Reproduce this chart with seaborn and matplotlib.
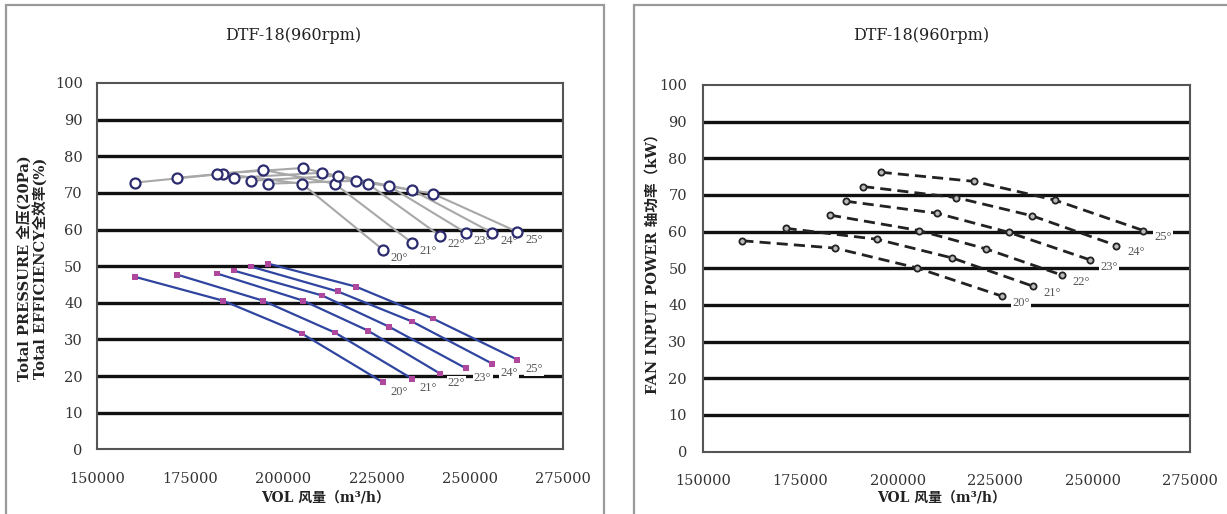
import matplotlib
matplotlib.use("Agg")
import matplotlib.pyplot as plt
import seaborn as sns
import pandas as pd
from matplotlib.patches import Rectangle

# ---------------- data ----------------
angles = ["20°", "21°", "22°", "23°", "24°", "25°"]

flow_20 = [160200, 183800, 205000, 226700]
flow_21 = [171500, 194500, 213800, 234500]
flow_22 = [182200, 205300, 222700, 242000]
flow_23 = [186700, 210400, 228300, 249000]
flow_24 = [191300, 214600, 234500, 256000]
flow_25 = [195900, 219500, 240100, 262700]

pressure_20 = [47.1, 40.6, 31.6, 18.3]
pressure_21 = [47.7, 40.6, 31.9, 19.3]
pressure_22 = [48.0, 40.6, 32.4, 20.7]
pressure_23 = [48.8, 42.0, 33.5, 22.1]
pressure_24 = [49.9, 43.1, 34.9, 23.4]
pressure_25 = [50.7, 44.4, 35.7, 24.5]

efficiency_20 = [72.8, 75.2, 72.5, 54.5]
efficiency_21 = [74.1, 76.3, 72.5, 56.4]
efficiency_22 = [75.2, 76.8, 72.5, 58.3]
efficiency_23 = [74.1, 75.5, 71.9, 59.1]
efficiency_24 = [73.3, 74.7, 70.8, 59.1]
efficiency_25 = [72.5, 73.3, 69.8, 59.4]

power_flow_20 = [160100, 183900, 204900, 226700]
power_flow_21 = [171200, 194700, 214000, 234700]
power_flow_22 = [182600, 205400, 222600, 242200]
power_flow_23 = [186600, 210100, 228500, 249300]
power_flow_24 = [191100, 214900, 234500, 256100]
power_flow_25 = [195600, 219600, 240300, 263000]

power_20 = [57.5, 55.5, 50.1, 42.4]
power_21 = [60.9, 57.9, 52.8, 45.1]
power_22 = [64.5, 60.3, 55.3, 48.1]
power_23 = [68.3, 65.0, 59.8, 52.3]
power_24 = [72.3, 69.3, 64.3, 56.2]
power_25 = [76.2, 73.7, 68.6, 60.3]

x_ticks = [150000, 175000, 200000, 225000, 250000, 275000]
y_ticks = [0, 10, 20, 30, 40, 50, 60, 70, 80, 90, 100]
grid_levels = [10, 20, 30, 40, 50, 60, 70, 80, 90]

title_text = "DTF-18(960rpm)"
xlabel_text = "VOL 风量（m³/h）"
ylabel_left_1 = "Total PRESSURE 全压(20Pa)"
ylabel_left_2 = "Total EFFICIENCY全效率(%)"
ylabel_right = "FAN INPUT POWER 轴功率（kW）"

flows = [flow_20, flow_21, flow_22, flow_23, flow_24, flow_25]
pressures = [pressure_20, pressure_21, pressure_22, pressure_23, pressure_24, pressure_25]
effs = [efficiency_20, efficiency_21, efficiency_22, efficiency_23, efficiency_24, efficiency_25]
pflows = [power_flow_20, power_flow_21, power_flow_22, power_flow_23, power_flow_24, power_flow_25]
powers = [power_20, power_21, power_22, power_23, power_24, power_25]

rows = []
for a, f, p, e in zip(angles, flows, pressures, effs):
    for i in range(len(f)):
        rows.append(dict(angle=a, flow=f[i], pressure=p[i], efficiency=e[i], order=i))
df = pd.DataFrame(rows)
prow = []
for a, f, w in zip(angles, pflows, powers):
    for i in range(len(f)):
        prow.append(dict(angle=a, flow=f[i], power=w[i], order=i))
dfp = pd.DataFrame(prow)

# ---------------- style ----------------
sns.set_theme(style="white")
plt.rcParams["font.family"] = ["DejaVu Serif", "Noto Sans CJK SC"]
plt.rcParams["axes.unicode_minus"] = False

W, H = 1227, 514
fig = plt.figure(figsize=(W / 100, H / 100), dpi=100)
fig.patch.set_facecolor("white")


def fx(px):
    return px / W


def fy(py):
    return 1 - py / H


axL = fig.add_axes([fx(96.7), fy(449.3), fx(563 - 96.7), (449.3 - 83) / H])
axR = fig.add_axes([fx(703), fy(451.5), fx(1190 - 703), (451.5 - 85) / H])

# panel borders
for (x0, y0, x1, y1) in [(6, 5, 604, 530), (634, 5, 1240, 530)]:
    fig.patches.append(Rectangle((fx(x0), fy(y1)), fx(x1 - x0), (y1 - y0) / H,
                                 transform=fig.transFigure, fill=False,
                                 edgecolor="#9a9a9a", lw=1.6, zorder=0))

TICKFONT = dict(family=["DejaVu Serif", "Noto Sans CJK SC"], size=10.5, color="#333333")


def style_axes(ax, ypad):
    ax.set_xlim(150000, 275000)
    ax.set_ylim(0, 100)
    ax.set_xticks(x_ticks)
    ax.set_yticks(y_ticks)
    ax.set_xticklabels([str(v) for v in x_ticks], **TICKFONT)
    ax.set_yticklabels([str(v) for v in y_ticks], **TICKFONT)
    ax.tick_params(axis="x", direction="in", length=3, width=1, color="#555555", pad=16)
    ax.tick_params(axis="y", length=0, pad=ypad)
    for s in ax.spines.values():
        s.set_color("#555555")
        s.set_linewidth(1.5)
        s.set_visible(True)
    ax.hlines(grid_levels, 150000, 275000, colors="#111111", linewidth=2.4, zorder=1)
    ax.set_xlabel("")
    ax.set_ylabel("")
    ax.set_facecolor("white")


style_axes(axL, 10)
style_axes(axR, 11.5)

LABELFONT = dict(family=["Liberation Serif"], size=9, color="#555555")
BOX = dict(facecolor="white", edgecolor="none", pad=0.8)

# ---- left panel: efficiency ----
sns.lineplot(data=df, x="flow", y="efficiency", hue="angle", units="angle",
             estimator=None, sort=False, palette=["#a8a8a8"] * 6, legend=False,
             linewidth=1.5, ax=axL, zorder=3)
sns.scatterplot(data=df, x="flow", y="efficiency", ax=axL, marker="o", s=52,
                facecolor="white", edgecolor="#2b2b6e", linewidth=1.6, zorder=4, legend=False)

# ---- left panel: pressure ----
sns.lineplot(data=df, x="flow", y="pressure", hue="angle", units="angle",
             estimator=None, sort=False, palette=["#2f45a0"] * 6, legend=False,
             linewidth=1.6, ax=axL, zorder=3)
sns.scatterplot(data=df, x="flow", y="pressure", ax=axL, marker="s", s=18,
                color="#b0479f", edgecolor="none", zorder=4, legend=False)

for a, f, p, e in zip(angles, flows, pressures, effs):
    axL.annotate(a, (f[-1], e[-1]), xytext=(12, -6), textcoords="offset points",
                 ha="center", va="center", bbox=BOX, zorder=2, **LABELFONT)
    axL.annotate(a, (f[-1], p[-1]), xytext=(12, -7), textcoords="offset points",
                 ha="center", va="center", bbox=BOX, zorder=2, **LABELFONT)

# ---- right panel: power ----
sns.lineplot(data=dfp, x="flow", y="power", hue="angle", units="angle",
             estimator=None, sort=False, palette=["#222222"] * 6, legend=False,
             linewidth=2.0, linestyle=(0, (4, 2.2)), ax=axR, zorder=3)
sns.scatterplot(data=dfp, x="flow", y="power", ax=axR, marker="o", s=20,
                facecolor="#bbbbbb", edgecolor="#222222", linewidth=1.3, zorder=4, legend=False)
for a, f, w in zip(angles, pflows, powers):
    axR.annotate(a, (f[-1], w[-1]), xytext=(14, -5), textcoords="offset points",
                 ha="center", va="center", bbox=BOX, zorder=2, **LABELFONT)

for ax in (axL, axR):
    ax.set_xlabel("")
    ax.set_ylabel("")

# ---- texts ----
TITLEFONT = dict(family=["DejaVu Serif", "Noto Sans CJK SC"], size=11.5, color="#222222")
fig.text(fx(293), fy(35), title_text, ha="center", va="center", **TITLEFONT)
fig.text(fx(921), fy(35), title_text, ha="center", va="center", **TITLEFONT)

LABFONT = dict(family=["DejaVu Serif", "Noto Sans CJK SC"], size=10, color="#222222", weight="bold")
YLABFONT = dict(family=["DejaVu Serif", "Noto Sans CJK SC"], size=10.5, color="#222222", weight="bold")
fig.text(fx(326), fy(498), xlabel_text, ha="center", va="center", **LABFONT)
fig.text(fx(942), fy(498), xlabel_text, ha="center", va="center", **LABFONT)
fig.text(fx(24), fy(268), ylabel_left_1, rotation=90, ha="center", va="center", **YLABFONT)
fig.text(fx(40), fy(268), ylabel_left_2, rotation=90, ha="center", va="center", **YLABFONT)
fig.text(fx(653), fy(260), ylabel_right, rotation=90, ha="center", va="center", **YLABFONT)

fig.savefig("out.png", dpi=100, facecolor="white")
